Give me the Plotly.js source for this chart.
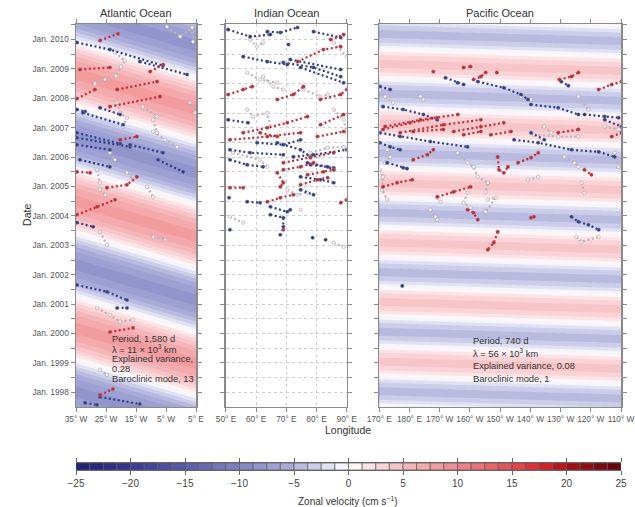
<!DOCTYPE html>
<html><head><meta charset="utf-8">
<script src="https://cdn.plot.ly/plotly-3.0.1.min.js"></script>
<style>html,body{margin:0;padding:0;background:#fff}</style>
</head><body><div id="chart" style="width:635px;height:507px"></div>
<script>
// ---------- Wave-fit parameters (read from annotations / picture) ----------
const atlPeriodDays = 1580, atlAmp = 7.8, atlCrestAt35W = 2004.5, atlCrestAt5E = 2003.3;
const pacPeriodDays = 740,  pacAmp = 4.1, pacCrestAt170E = 1999.05, pacCrestAt110W = 1998.8;

// ---------- Drifter tracks (longitude, decimal year) ----------
// Atlantic
const atlBlueLon  = [-34.7,-23.7,-6,null,-13.7,2,null,-34.7,-32,null,-32.7,-19.3,null,-27,-20.3,null,-34.7,-20.3,null,-34.7,-17,null,-17,-6,null,-34.7,-23.7,null,-33.7,-23.7,null,-34.7,-29.3,null,-34.7,-24.7,-18,null,-21.3,-18,null,-27,-13.7,null,-32,-28,null,-7.7,0.7];
const atlBlueDate = [2009.90,2009.66,2009.11,null,2009.25,2008.81,null,2007.62,2007.55,null,2007.51,2007.10,null,2007.68,2007.45,null,2006.83,2006.46,null,2006.66,2006.35,null,2006.42,2006.15,null,2006.42,2006.25,null,2005.91,2005.67,null,2003.77,2003.63,null,2001.65,2001.42,2001.14,null,2000.87,2000.87,null,1997.84,1997.60,null,1997.64,1997.57,null,2005.91,2005.50];
const atlRedLon   = [-27,-21,null,-33.7,-23.7,null,-10.3,-6,null,-21.3,-8,null,-23.7,-7,null,-34.7,-28.7,null,-20.3,-14.7,null,-34.7,-30.3,null,-24.7,-18,-14.7,null,-34.7,-28,-22,null,-23.7,-16,null,-27,-22.7];
const atlRedDate  = [2009.97,2010.20,null,2008.98,2009.05,null,2008.91,2009.15,null,2008.30,2008.57,null,2007.72,2008.06,null,2007.99,2008.30,null,2006.59,2006.70,null,2005.50,2005.47,null,2004.96,2005.06,2005.33,null,2004.04,2004.31,2004.55,null,2000.05,2000.19,null,1997.91,1998.11];
const atlSlowLon  = [-22,-18.7,-20,-21.7,-25.3,-28.7,null,-21.3,-20.3,-18,-19.3,null,-12.7,-8,null,-9.3,-8,null,3,4.7,null,-9.3,-5.3,-1.3,null,-23.7,-22,-23.7,null,-28,-27,null,-18,-16,null,-27,-25.3,null,-11.3,-9.3,null,-27,-24.7,null,-9.3,-5.3,null,-28,-23.7,-20.3,-16,null,-27,-24.7,null,-4.7,-0.3,3.7,4];
const atlSlowDate = [2009.56,2009.28,2009.08,2008.77,2008.64,2008.50,null,2007.85,2007.51,2007.34,2007.04,null,2007.72,2007.38,null,2007.27,2006.83,null,2007.85,2007.51,null,2006.87,2006.59,2006.35,null,2006.15,2005.91,2005.67,null,2005.57,2005.13,null,2005.47,2005.23,null,2004.89,2004.72,null,2004.99,2004.65,null,2003.46,2003.02,null,2003.29,2003.19,null,2000.87,2000.63,2000.40,2000.46,null,1998.76,1998.59,null,2010.44,2010.10,2010.41,2009.93];
// Indian
const indBlueLon  = [50.7,58,64.7,null,63.7,68,73.7,null,79,88,null,55.7,63.7,70.3,null,69,79,88,null,74.7,89,null,71.3,88,null,50.7,57.3,null,60.3,69,74.7,null,51.3,58,69,null,67,74.7,78,null,72.3,79,90,null,51.3,57,62.3,null,77,83.7,85.7,null,78,85.7,null,74.7,81.3,85.7,null,74.7,79,null,57,61.3,null,64.7,70.3,71.3,null,64.7,69,69,null,51.3,null,68,null,78.7,null,83,null,51,null,70.7];
const indBlueDate = [2010.34,2010.10,2010.17,null,2010.27,2010.24,2010.41,null,2010.27,2010.07,null,2009.42,2009.25,2009.15,null,2009.22,2009.05,2008.74,null,2009.05,2008.53,null,2009.32,2008.98,null,2007.27,2007.17,null,2006.49,2006.42,2006.59,null,2006.25,2006.15,2006.08,null,2006.49,2006.25,2006.01,null,2006.01,2006.08,2006.25,null,2005.91,2005.74,2005.67,null,2005.81,2005.67,2005.57,null,2005.74,2005.64,null,2005.33,2005.23,2005.13,null,2004.89,2004.72,null,2004.48,2004.45,null,2004.31,2004.14,2004.21,null,2004.04,2003.94,2003.63,null,2003.53,null,2003.36,null,2003.26,null,2003.19,null,2004.62,null,2009.83];
const indRedLon   = [84.7,89,null,73.7,82.3,88,null,50.7,55.7,58.7,null,67,72.3,75.7,null,81.3,88,90,null,55.7,63.7,70.3,77,null,61.3,67,null,51.3,63.7,74.7,null,80.3,89,null,69,78,85.7,null,69,74.7,79,null,77,82.3,85.7,null,67,69,68,null,74.7,80.3,83.7,null,63.7,68,72.3,null,51.3,55.7,null,81.3,89,null,69,null,88,90];
const indRedDate  = [2010.00,2010.17,null,2009.25,2009.66,2009.76,null,2008.13,2008.30,2008.40,null,2007.96,2008.13,2008.40,null,2007.96,2008.13,2008.30,null,2006.83,2007.00,2007.17,2007.38,null,2006.83,2006.70,null,2006.59,2006.70,2006.83,null,2006.70,2006.87,null,2005.81,2005.98,2006.15,null,2005.57,2005.67,2005.81,null,2005.40,2005.50,2005.57,null,2005.47,2005.13,2004.99,null,2005.06,2005.23,2005.30,null,2004.48,2004.62,2004.72,null,2004.96,2004.96,null,2007.10,2007.45,null,2003.53,null,2004.45,2004.55];
const indSlowLon  = [58,60.3,62.3,null,85.7,90,null,57,61.3,67,null,62.3,65.7,69,null,75.7,81.3,83.7,null,85.7,89,90,null,57,59,63.7,64.7,null,52.3,61.3,63.7,null,78,83.7,89,null,70.3,73.7,77,null,51.3,55.7,null,85.7,89,null,74.7];
const indSlowDate = [2010.00,2009.76,2009.90,null,2009.90,2009.42,null,2008.88,2008.64,2008.53,null,2008.74,2008.40,2008.30,null,2008.30,2008.06,2008.13,null,2007.62,2007.27,2006.83,null,2007.62,2007.38,2007.51,2007.04,null,2006.15,2005.91,2005.67,null,2006.15,2006.32,2006.35,null,2004.89,2004.72,2004.79,null,2003.97,2003.77,null,2003.09,2002.95,null,2004.21];
// Pacific (longitude in degrees east, 170..250)
const pacRedLon   = [187.9,null,197.9,200.2,null,208.9,null,201.2,203.6,205.2,null,229.6,233.6,235.9,null,242.6,246.9,250.2,null,171.2,180.2,189.2,null,171.9,183.6,196,null,176.9,191.2,203.6,null,194.6,203.6,211.2,null,181.2,191.2,null,197.9,203.6,null,206.9,213.6,null,229.2,235.9,null,246.9,250.2,null,181.2,185.9,187.9,null,215.9,220.2,222.6,null,171.2,175.9,180.9,null,189.2,194.6,200.2,null,199.2,201.2,202.6,null,209.2,207.9,205.9,null,220.2,221.2,null,237.9,240.2,null,209.2,209.6,211.2,212.6];
const pacRedDate  = [2008.91,null,2009.05,2009.08,null,2008.88,null,2008.64,2008.74,2008.88,null,2008.64,2008.74,2008.88,null,2008.30,2008.47,2008.57,null,2006.94,2007.17,2007.34,null,2007.04,2007.27,2007.45,null,2006.83,2007.10,2007.27,null,2006.87,2007.04,2007.17,null,2006.87,2006.94,null,2006.76,2006.87,null,2006.76,2006.87,null,2006.83,2006.94,null,2006.70,2006.83,null,2005.91,2006.08,2006.25,null,2005.81,2005.98,2006.15,null,2004.99,2005.13,2005.23,null,2004.65,2004.82,2004.99,null,2004.21,2004.11,2003.87,null,2003.46,2003.09,2002.85,null,2003.94,2003.97,null,2005.57,2005.40,null,2006.01,2005.57,2005.47,2005.67];
const pacBlueLon  = [191.9,195.9,197.9,null,202.6,211.2,216.9,219.2,null,220.2,229.2,235.9,null,230.2,232.6,null,237.9,244.6,249.2,null,171.2,177.9,184.6,189.2,null,170.2,176.9,186.9,199.2,null,220.2,224.6,null,214.6,222.6,233.6,242.6,247.9,null,244.6,250.2,null,170.2,173.6,176.9,null,172.6,177.9,179.2,null,170.2,173.6,null,177.6,null,233.6,235.9,239.2,242.6];
const pacBlueDate = [2008.70,2008.53,2008.47,null,2008.57,2008.36,2008.13,2007.96,null,2007.79,2007.68,2007.45,null,2008.57,2008.43,null,2007.45,2007.38,2007.34,null,2007.72,2007.62,2007.45,2007.27,null,2006.83,2006.70,2006.53,2006.35,null,2006.83,2006.59,null,2006.59,2006.49,2006.25,2006.18,2006.01,null,2007.27,2007.04,null,2006.49,2006.35,2006.25,null,2005.81,2005.64,2005.61,null,2008.40,2008.30,null,2001.62,null,2003.97,2003.80,2003.70,2003.53];
const pacSlowLon  = [170.2,171.9,174.6,null,183.6,184.6,null,216.9,220.2,null,235.9,239.2,null,244.6,249.2,null,224.6,226.9,null,221.2,229.2,235.9,null,172.6,173.6,171.9,null,195.9,199.2,201.2,202.6,205.9,205.2,null,219.2,222.6,null,231.2,234.6,235.9,null,236.9,237.9,null,247.9,249.2,null,170.2,171.2,170.9,172.6,null,189.2,190.2,null,199.2,197.9,200.2,null,186.9,188.6,189.2,null,235.2,236.9,242.6,null,205.9,208.6,205.2];
const pacSlowDate = [2008.30,2008.06,2007.85,null,2008.06,2007.96,null,2008.06,2007.96,null,2008.06,2007.62,null,2007.04,2006.94,null,2007.04,2006.83,null,2006.76,2006.70,2006.70,null,2006.25,2006.01,2005.81,null,2006.15,2005.81,2005.67,2005.33,2005.13,2004.82,null,2005.23,2005.33,null,2006.01,2005.81,2005.67,null,2005.13,2004.79,null,2006.15,2005.67,null,2005.57,2005.33,2004.89,2004.55,null,2004.62,2004.48,null,2004.79,2004.45,2004.28,null,2004.21,2003.97,2003.87,null,2003.29,2003.12,2003.29,null,2004.55,2004.62,2004.14];

// ---------- Tick labels ----------
const yearTicks = [1998,1999,2000,2001,2002,2003,2004,2005,2006,2007,2008,2009,2010];
const atlTickVals = [-35,-25,-15,-5,5];
const atlTickText = ['35° W','25° W','15° W','5° W','5° E'];
const indTickVals = [50,60,70,80,90];
const indTickText = ['50° E','60° E','70° E','80° E','90° E'];
const pacTickVals = [170,180,190,200,210,220,230,240,250];
const pacTickText = ['170° E','180° E','170° W','160° W','150° W','140° W','130° W','120° W','110° W'];
const cbTickVals = [-25,-20,-15,-10,-5,0,5,10,15,20,25];

// ---------- Colours ----------
const velScale = [
  [0,'rgb(32,30,118)'],[0.1,'rgb(52,55,150)'],[0.2,'rgb(88,92,174)'],[0.3,'rgb(128,132,196)'],
  [0.4,'rgb(174,176,218)'],[0.45,'rgb(214,215,237)'],[0.5,'rgb(255,255,255)'],
  [0.55,'rgb(250,218,221)'],[0.6,'rgb(246,188,192)'],[0.7,'rgb(240,136,138)'],
  [0.8,'rgb(232,76,78)'],[0.86,'rgb(220,32,36)'],[0.9,'rgb(176,16,22)'],[1,'rgb(98,0,8)']];
const blueCol = '#2d3d8e', redCol = '#cf2630', slowCol = '#bdb2ba';

// ---------- Build ----------
const yRange = [1997.51, 2010.53];
const yTickVals = [], yTickText = [];
for (const y of yearTicks) { yTickVals.push(y - 0.5, y); yTickText.push('', 'Jan. ' + y); }
yTickVals.push(2010.5); yTickText.push('');

function waveField(lonMin, lonMax, lonStep, crestW, crestE, periodDays, amp) {
  const P = periodDays / 365.25;
  const xs = [], ys = [], z = [];
  for (let x = lonMin; x <= lonMax + 1e-9; x += lonStep) xs.push(+x.toFixed(3));
  for (let t = 1997.3; t <= 2010.75; t += 0.02) ys.push(+t.toFixed(3));
  for (const t of ys) {
    const row = [];
    for (const x of xs) {
      const tc = crestW + (crestE - crestW) * (x - lonMin) / (lonMax - lonMin);
      row.push(amp * Math.cos(2 * Math.PI * (t - tc) / P));
    }
    z.push(row);
  }
  return {xs, ys, z};
}

function bg(f, xa, ya) {
  return {type:'contour', x:f.xs, y:f.ys, z:f.z, xaxis:xa, yaxis:ya,
    colorscale:velScale, zmin:-25, zmax:25, autocontour:false,
    contours:{start:-25, end:25, size:1.25, coloring:'fill', showlines:false},
    line:{width:0}, showscale:false, hoverinfo:'skip'};
}
function tracks(lon, date, col, mfill, xa, ya) {
  return {type:'scatter', mode:'lines+markers', x:lon, y:date, xaxis:xa, yaxis:ya,
    connectgaps:false, hoverinfo:'skip',
    line:{color:col, width:2.2, dash:'2px,2.5px'},
    marker:{size:3.6, color:mfill, line:{color:'#8a8a8a', width:0.4}}};
}

const atlF = waveField(-35, 5, 0.5, atlCrestAt35W, atlCrestAt5E, atlPeriodDays, atlAmp);
const pacF = waveField(170, 250, 1, pacCrestAt170E, pacCrestAt110W, pacPeriodDays, pacAmp);

const cbStep = 1.25, cbCenters = [];
for (let v = -25 + cbStep/2; v < 25; v += cbStep) cbCenters.push(+v.toFixed(4));

const data = [
  bg(atlF, 'x', 'y'),
  bg(pacF, 'x3', 'y3'),
  tracks(atlSlowLon, atlSlowDate, slowCol, '#f5eef1', 'x', 'y'),
  tracks(atlBlueLon, atlBlueDate, blueCol, blueCol, 'x', 'y'),
  tracks(atlRedLon, atlRedDate, redCol, redCol, 'x', 'y'),
  tracks(indSlowLon, indSlowDate, slowCol, '#f5eef1', 'x2', 'y2'),
  tracks(indBlueLon, indBlueDate, blueCol, blueCol, 'x2', 'y2'),
  tracks(indRedLon, indRedDate, redCol, redCol, 'x2', 'y2'),
  tracks(pacSlowLon, pacSlowDate, slowCol, '#f5eef1', 'x3', 'y3'),
  tracks(pacBlueLon, pacBlueDate, blueCol, blueCol, 'x3', 'y3'),
  tracks(pacRedLon, pacRedDate, redCol, redCol, 'x3', 'y3'),
  {type:'bar', x:cbCenters, y:cbCenters.map(() => 1), width:cbStep, xaxis:'x4', yaxis:'y4',
   marker:{color:cbCenters, colorscale:velScale, cmin:-25, cmax:25, line:{color:'#5a5a5a', width:0.7}},
   hoverinfo:'skip'}
];

const axCol = '#8a8a8a';
function xAx(domain, range, tv, tt, anchor, extra) {
  return Object.assign({domain, range, tickvals:tv, ticktext:tt, anchor, ticks:'outside', ticklen:4,
    tickcolor:axCol, showline:true, linecolor:axCol, linewidth:1.5, mirror:'ticks', showgrid:false,
    zeroline:false, fixedrange:true, tickfont:{size:8.3, color:'#555'}}, extra || {});
}
function yAx(anchor, labels, extra) {
  return Object.assign({domain:[0.2044, 1], range:yRange, tickvals:yTickVals,
    ticktext: labels ? yTickText : yTickVals.map(() => ''), anchor, ticks:'outside', ticklen:4,
    tickcolor:axCol, showline:true, linecolor:axCol, linewidth:1.5, mirror:'ticks', showgrid:false,
    zeroline:false, fixedrange:true, tickfont:{size:8.3, color:'#555'}}, extra || {});
}
const gridExtra = {showgrid:true, gridcolor:'#cfcfcf', griddash:'dot', gridwidth:1};

const txt = '#333';
const ann = [
  {text:'Atlantic Ocean', xref:'x domain', yref:'paper', x:0.5, y:1.023, xanchor:'center', yanchor:'middle', showarrow:false, font:{size:11, color:txt}},
  {text:'Indian Ocean', xref:'x2 domain', yref:'paper', x:0.5, y:1.023, xanchor:'center', yanchor:'middle', showarrow:false, font:{size:11, color:txt}},
  {text:'Pacific Ocean', xref:'x3 domain', yref:'paper', x:0.5, y:1.023, xanchor:'center', yanchor:'middle', showarrow:false, font:{size:11, color:txt}},
  {text:'Longitude', xref:'paper', yref:'paper', x:0.499, y:0.156, xanchor:'center', yanchor:'middle', showarrow:false, font:{size:10.5, color:txt}},
  {text:'Date', xref:'paper', yref:'paper', x:-0.09, y:0.603, xanchor:'center', yanchor:'middle', textangle:-90, showarrow:false, font:{size:10.5, color:txt}},
  {text:'Zonal velocity (cm s<sup>−1</sup>)', xref:'paper', yref:'paper', x:0.499, y:0.0085, xanchor:'center', yanchor:'middle', showarrow:false, font:{size:10, color:txt}}
];
const atlLines = ['Period, 1,580 d', 'λ = 11 × 10<sup>3</sup> km', 'Explained variance,', '0.28', 'Baroclinic mode, 13'];
const atlLineY = [1999.81, 1999.47, 1999.13, 1998.80, 1998.46];
atlLines.forEach((t, i) => ann.push({text:t, xref:'x', yref:'y', x:-23.67, y:atlLineY[i], xanchor:'left', yanchor:'middle', showarrow:false, font:{size:9.3, color:txt}}));
const pacLines = ['Period, 740 d', 'λ = 56 × 10<sup>3</sup> km', 'Explained variance, 0.08', 'Baroclinic mode, 1'];
const pacLineY = [1999.76, 1999.33, 1998.90, 1998.46];
pacLines.forEach((t, i) => ann.push({text:t, xref:'x3', yref:'y3', x:200.2, y:pacLineY[i], xanchor:'left', yanchor:'middle', showarrow:false, font:{size:9.3, color:txt}}));

const layout = {
  width:635, height:507, margin:{l:76, r:14, t:24, b:2},
  paper_bgcolor:'#fff', plot_bgcolor:'#fff', showlegend:false,
  font:{family:'"Liberation Sans", Arial, sans-serif', size:8.3, color:'#555'},
  xaxis: xAx([0, 0.2202], [-35, 5], atlTickVals, atlTickText, 'y'),
  yaxis: yAx('x', true),
  xaxis2: xAx([0.2752, 0.4967], [50, 90], indTickVals, indTickText, 'y2', gridExtra),
  yaxis2: yAx('x2', false, gridExtra),
  xaxis3: xAx([0.5565, 1], [170, 250], pacTickVals, pacTickText, 'y3'),
  yaxis3: yAx('x3', false),
  xaxis4: {domain:[0, 1], range:[-25, 25], anchor:'y4', tickvals:cbTickVals, ticks:'outside', ticklen:4,
    tickcolor:'#666', showline:true, linecolor:'#666', linewidth:1, mirror:'ticks', showgrid:false,
    zeroline:false, fixedrange:true, tickfont:{size:10, color:'#444'}},
  yaxis4: {domain:[0.0728, 0.0873], range:[0, 1], anchor:'x4', visible:false, fixedrange:true},
  bargap:0,
  annotations: ann
};

Plotly.newPlot('chart', data, layout, {displayModeBar:false, staticPlot:true});
</script></body></html>
